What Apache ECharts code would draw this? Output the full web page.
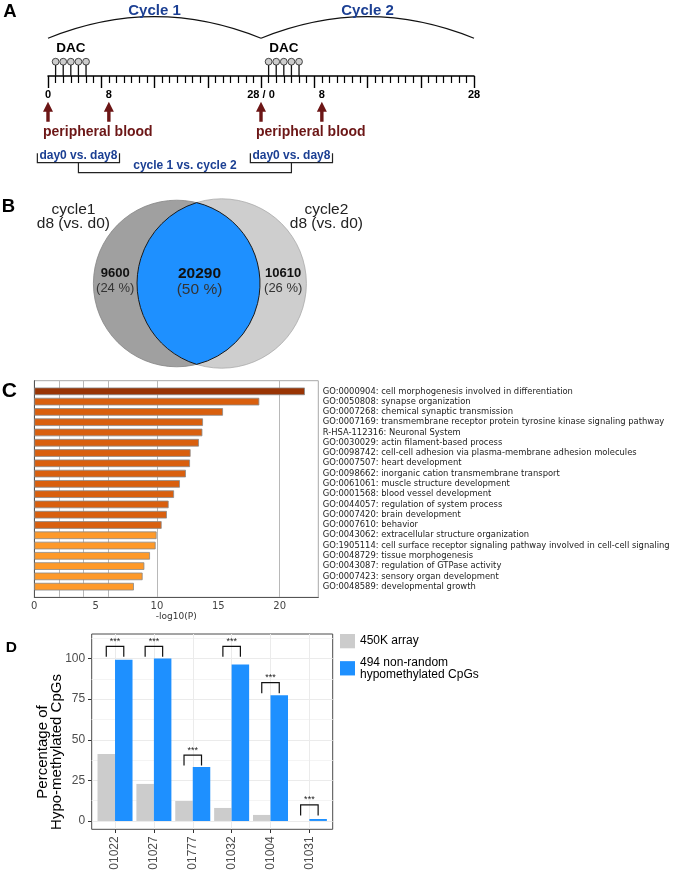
<!DOCTYPE html>
<html><head><meta charset="utf-8">
<script src="https://cdn.jsdelivr.net/npm/echarts@6/dist/echarts.min.js"></script>
<style>html,body{margin:0;padding:0;background:#fff}#c{width:673px;height:871px}</style>
</head><body><div id="c"></div>
<script>
// ---------------- Panel A data ----------------
const cycleNames = ['Cycle 1', 'Cycle 2'];
const cycleStartDays = [0, 28];
const cycleLengthDays = 28;
const dacDays = [1, 2, 3, 4, 5, 29, 30, 31, 32, 33];
const timelineTickValues = [0, 8, 28, 36, 56];
const timelineTickLabels = ['0', '8', '28 / 0', '8', '28'];
const bloodDays = [0, 8, 28, 36];
const bloodLabelDays = [0, 28];
const bloodLabel = 'peripheral blood';
const comparisonCenters = [4, 32];
const comparisonLabels = ['day0 vs. day8', 'day0 vs. day8'];
const crossComparisonLabel = 'cycle 1 vs. cycle 2';

// ---------------- Panel B data ----------------
const vennSetNames = ['cycle1\nd8 (vs. d0)', 'cycle2\nd8 (vs. d0)'];
const vennCounts = [9600, 20290, 10610]; // cycle1 only, both, cycle2 only

// ---------------- Panel C data ----------------
const goTerms = [
  'GO:0000904: cell morphogenesis involved in differentiation',
  'GO:0050808: synapse organization',
  'GO:0007268: chemical synaptic transmission',
  'GO:0007169: transmembrane receptor protein tyrosine kinase signaling pathway',
  'R-HSA-112316: Neuronal System',
  'GO:0030029: actin filament-based process',
  'GO:0098742: cell-cell adhesion via plasma-membrane adhesion molecules',
  'GO:0007507: heart development',
  'GO:0098662: inorganic cation transmembrane transport',
  'GO:0061061: muscle structure development',
  'GO:0001568: blood vessel development',
  'GO:0044057: regulation of system process',
  'GO:0007420: brain development',
  'GO:0007610: behavior',
  'GO:0043062: extracellular structure organization',
  'GO:1905114: cell surface receptor signaling pathway involved in cell-cell signaling',
  'GO:0048729: tissue morphogenesis',
  'GO:0043087: regulation of GTPase activity',
  'GO:0007423: sensory organ development',
  'GO:0048589: developmental growth'
];
const goLog10P = [22.06, 18.34, 15.38, 13.75, 13.70, 13.42, 12.74, 12.69, 12.36, 11.87,
                  11.39, 10.95, 10.81, 10.38, 9.97, 9.89, 9.43, 8.97, 8.83, 8.12];
const goTickValues = [0, 5, 10, 15, 20];
const goGridValues = [2, 4, 6, 10, 20];

// ---------------- Panel D data ----------------
const samples = ['01022', '01027', '01777', '01032', '01004', '01031'];
const seriesNames = ['450K array', '494 non-random\nhypomethylated CpGs'];
const array450K = [41.3, 22.8, 12.3, 8.0, 3.7, 0];
const nonRandom494 = [99.3, 100, 33.2, 96.3, 77.4, 1.2];
const sigLabels = ['***', '***', '***', '***', '***', '***'];
const sigTop = [107.5, 107.5, 40.6, 107.5, 85.2, 9.9];
const sigBottom = [101.2, 101.2, 34.1, 101.2, 78.6, 3.3];
const pctTicks = [0, 25, 50, 75, 100];
const pctMinorTicks = [12.5, 37.5, 62.5, 87.5, 112.5];

// ---------------- layout / style ----------------
const FONT = 'Liberation Sans, Arial, Helvetica, sans-serif';
const FONT_C = 'DejaVu Sans, sans-serif';
const BLUE_TXT = '#1b3f93';
const RED_TXT = '#6c1616';
// panel A vertical levels (1 unit = 1 px above the timeline)
const L = {
  dacStem: 14.3, dacText: 28, arcBase: 37.7, arcCtrl: 80.9, cycleText: 65.5,
  arrowTip: -25.7, arrowHead: -35.7, arrowBase: -45.7, bloodText: -55.7,
  bracketTop: -77.3, bracketBottom: -86.7, bracketText: -79.5, linkBottom: -96.7, linkText: -89.5,
  bracketHalf: 5.4
};
// panel B geometry (grid units = px)
const V = { c1: [176.7, 93.5], c2: [221.7, 93.5], k: 0.4818, titleGap: 20, titleDy: -67 };
const D_BAR_W = 17.5;

function txt(x, y, text, s) {
  return {
    type: 'text', x: x, y: y,
    style: Object.assign({
      text: text, fill: '#000', fontFamily: FONT, fontSize: 12,
      align: 'center', verticalAlign: 'middle', textAlign: 'center', textVerticalAlign: 'middle'
    }, s || {})
  };
}

const chart = echarts.init(document.getElementById('c'), null, { renderer: 'canvas' });

const colorFor = v => v >= 20 ? '#993404' : (v >= 10 ? '#d95f0e' : '#fe9929');
const dacCenter = i => {
  const s = cycleStartDays[i];
  const g = dacDays.filter(d => d >= s && d < s + cycleLengthDays);
  return g.reduce((a, b) => a + b, 0) / g.length;
};

const option = {
  animation: false,
  backgroundColor: '#fff',
  textStyle: { fontFamily: FONT },
  grid: [
    { left: 48, top: 10, width: 426, height: 66, outerBoundsMode: 'none', containLabel: false },
    { left: 0, top: 190, width: 400, height: 190, outerBoundsMode: 'none', containLabel: false },
    { left: 34.3, top: 380.7, width: 284, height: 216.6, show: true, borderColor: '#a8a8a8', borderWidth: 1, outerBoundsMode: 'none', containLabel: false },
    { left: 34.3, top: 386.2, width: 284, height: 205.6, outerBoundsMode: 'none', containLabel: false },
    { left: 91.7, top: 634, width: 241, height: 195.3, show: true, borderColor: '#4a4a4a', borderWidth: 1, outerBoundsMode: 'none', containLabel: false }
  ],
  xAxis: [
    { gridIndex: 0, type: 'value', min: 0, max: 56, interval: 7, position: 'bottom',
      axisLine: { show: true, onZero: false, lineStyle: { color: '#000', width: 1.5 } },
      axisTick: { show: true, length: 12, lineStyle: { color: '#000', width: 1.4 } },
      minorTick: { show: true, splitNumber: 7, length: 7, lineStyle: { color: '#000', width: 1.2 } },
      axisLabel: { customValues: timelineTickValues, margin: 13, fontSize: 11, fontWeight: 'bold', color: '#000',
        formatter: v => timelineTickLabels[timelineTickValues.indexOf(v)] },
      splitLine: { show: false } },
    { gridIndex: 1, type: 'value', min: 0, max: 400, show: false },
    { gridIndex: 2, type: 'value', min: 0, max: 23.15,
      axisLine: { show: true, onZero: false, lineStyle: { color: '#555', width: 1 } },
      axisTick: { show: false, customValues: goGridValues },
      axisLabel: { customValues: goTickValues, fontSize: 10, color: '#444', margin: 4, fontFamily: FONT_C },
      splitLine: { show: true, lineStyle: { color: '#b8b8b8', width: 1 } },
      name: '-log10(P)', nameLocation: 'middle', nameGap: 15,
      nameTextStyle: { fontSize: 9, color: '#333', fontFamily: FONT_C } },
    { gridIndex: 3, type: 'value', min: 0, max: 23.15, show: false },
    { gridIndex: 4, type: 'value', min: 0.4, max: 6.6,
      axisLine: { show: false, onZero: false },
      axisTick: { show: true, length: 3.7, customValues: samples.map((s, i) => i + 1), lineStyle: { color: '#333', width: 1 } },
      axisLabel: { customValues: samples.map((s, i) => i + 1), rotate: 90, margin: 7, fontSize: 12, color: '#4d4d4d',
        formatter: v => samples[Math.round(v) - 1] },
      splitLine: { show: true, lineStyle: { color: '#ebebeb', width: 1 } } }
  ],
  yAxis: [
    { gridIndex: 0, type: 'value', min: 0, max: 66, show: true,
      axisLine: { show: false, onZero: false }, axisTick: { show: false }, axisLabel: { show: false }, splitLine: { show: false } },
    { gridIndex: 1, type: 'value', min: 0, max: 190, inverse: true, show: false },
    { gridIndex: 2, type: 'value', min: 0, max: 1,
      axisLine: { show: true, onZero: false, lineStyle: { color: '#555', width: 1 } },
      axisTick: { show: false }, axisLabel: { show: false }, splitLine: { show: false } },
    { gridIndex: 3, type: 'category', data: goTerms, inverse: true, position: 'right',
      axisLine: { show: false, onZero: false }, axisTick: { show: false },
      axisLabel: { interval: 0, align: 'left', margin: 4.4, fontSize: 8.4, color: '#222', fontFamily: FONT_C },
      splitLine: { show: false } },
    { gridIndex: 4, type: 'value', min: -5.15, max: 115.15,
      axisLine: { show: false, onZero: false },
      axisTick: { show: true, length: 3.7, customValues: pctTicks, lineStyle: { color: '#333', width: 1 } },
      axisLabel: { customValues: pctTicks, margin: 6.5, fontSize: 12, color: '#4d4d4d' },
      splitLine: { show: true, lineStyle: { color: '#ebebeb', width: 1 } } },
    { gridIndex: 4, type: 'value', min: -5.15, max: 115.15,
      axisLine: { show: false, onZero: false },
      axisTick: { show: false, customValues: pctMinorTicks },
      axisLabel: { show: false },
      splitLine: { show: true, lineStyle: { color: '#f4f4f4', width: 1 } } }
  ],
  legend: {
    data: seriesNames, orient: 'vertical', left: 340, top: 634, padding: 0,
    itemWidth: 15, itemHeight: 14.3, itemGap: 8,
    icon: 'rect', selectedMode: false,
    textStyle: { fontSize: 12, color: '#000', lineHeight: 12, fontFamily: FONT }
  },
  graphic: [
    txt(3.3, 12, 'A', { fontSize: 18.5, fontWeight: 'bold', align: 'left', textAlign: 'left' }),
    txt(1.7, 207, 'B', { fontSize: 18.5, fontWeight: 'bold', align: 'left', textAlign: 'left' }),
    txt(1.7, 391.5, 'C', { fontSize: 21, fontWeight: 'bold', align: 'left', textAlign: 'left' }),
    txt(5.7, 647.5, 'D', { fontSize: 15.5, fontWeight: 'bold', align: 'left', textAlign: 'left' }),
    Object.assign(txt(50, 752, 'Percentage of\nHypo-methylated CpGs', { fontSize: 15, lineHeight: 13.5 }), { rotation: Math.PI / 2 })
  ],
  series: [
    // ---- Panel A: DAC lollipops
    { type: 'custom', xAxisIndex: 0, yAxisIndex: 0, clip: false, data: dacDays.map(d => [d, 0]),
      renderItem: (p, api) => {
        const b = api.coord([api.value(0), 0]);
        const t = api.coord([api.value(0), L.dacStem]);
        return { type: 'group', children: [
          { type: 'line', shape: { x1: b[0], y1: b[1], x2: t[0], y2: t[1] }, style: { stroke: '#111', lineWidth: 1.3 } },
          { type: 'circle', shape: { cx: t[0], cy: t[1], r: 3.4 }, style: { fill: '#cdcdcd', stroke: '#333', lineWidth: 0.9 } }
        ] };
      } },
    // ---- Panel A: cycle arcs, cycle names, DAC labels
    { type: 'custom', xAxisIndex: 0, yAxisIndex: 0, clip: false,
      data: cycleStartDays.map((s, i) => [s, s + cycleLengthDays, i]),
      renderItem: (p, api) => {
        const s = api.value(0), e = api.value(1), i = api.value(2);
        const p0 = api.coord([s, L.arcBase]), p1 = api.coord([e, L.arcBase]);
        const cp = api.coord([(s + e) / 2, L.arcCtrl]);
        const tp = api.coord([(s + e) / 2, L.cycleText]);
        const dp = api.coord([dacCenter(i), L.dacText]);
        return { type: 'group', children: [
          { type: 'bezierCurve', shape: { x1: p0[0], y1: p0[1], x2: p1[0], y2: p1[1], cpx1: cp[0], cpy1: cp[1] },
            style: { stroke: '#111', lineWidth: 1.2, fill: null } },
          txt(tp[0], tp[1], cycleNames[i], { fontSize: 15, fontWeight: 'bold', fill: BLUE_TXT }),
          txt(dp[0], dp[1], 'DAC', { fontSize: 13.5, fontWeight: 'bold', fill: '#000' })
        ] };
      } },
    // ---- Panel A: blood sampling arrows
    { type: 'custom', xAxisIndex: 0, yAxisIndex: 0, clip: false, data: bloodDays.map(d => [d, 0]),
      renderItem: (p, api) => {
        const x = api.coord([api.value(0), 0])[0];
        const yT = api.coord([0, L.arrowTip])[1], yH = api.coord([0, L.arrowHead])[1], yB = api.coord([0, L.arrowBase])[1];
        return { type: 'polygon', shape: { points: [[x, yT], [x + 5, yH], [x + 1.7, yH], [x + 1.7, yB], [x - 1.7, yB], [x - 1.7, yH], [x - 5, yH]] },
          style: { fill: RED_TXT } };
      } },
    { type: 'custom', xAxisIndex: 0, yAxisIndex: 0, clip: false, data: bloodLabelDays.map(d => [d, 0]),
      renderItem: (p, api) => {
        const c = api.coord([api.value(0), L.bloodText]);
        return txt(c[0] - 5, c[1], bloodLabel, { fontSize: 14, fontWeight: 'bold', fill: RED_TXT, align: 'left', textAlign: 'left' });
      } },
    // ---- Panel A: comparison brackets
    { type: 'custom', xAxisIndex: 0, yAxisIndex: 0, clip: false, data: comparisonCenters.map((c, i) => [c, i]),
      renderItem: (p, api) => {
        const c = api.value(0), i = api.value(1);
        const a = api.coord([c - L.bracketHalf, L.bracketTop]), b = api.coord([c + L.bracketHalf, L.bracketBottom]);
        const t = api.coord([c, L.bracketText]);
        return { type: 'group', children: [
          { type: 'polyline', shape: { points: [[a[0], a[1]], [a[0], b[1]], [b[0], b[1]], [b[0], a[1]]] },
            style: { stroke: '#222', lineWidth: 1.2, fill: null } },
          txt(t[0], t[1], comparisonLabels[i], { fontSize: 12, fontWeight: 'bold', fill: BLUE_TXT })
        ] };
      } },
    { type: 'custom', xAxisIndex: 0, yAxisIndex: 0, clip: false, data: [[comparisonCenters[0], comparisonCenters[1]]],
      renderItem: (p, api) => {
        const c0 = api.value(0), c1 = api.value(1);
        const a = api.coord([c0, L.bracketBottom]), b = api.coord([c1, L.linkBottom]);
        const t = api.coord([(c0 + c1) / 2, L.linkText]);
        return { type: 'group', children: [
          { type: 'polyline', shape: { points: [[a[0], a[1]], [a[0], b[1]], [b[0], b[1]], [b[0], a[1]]] },
            style: { stroke: '#222', lineWidth: 1.2, fill: null } },
          txt(t[0], t[1], crossComparisonLabel, { fontSize: 12, fontWeight: 'bold', fill: BLUE_TXT })
        ] };
      } },
    // ---- Panel B: Venn diagram
    { type: 'custom', xAxisIndex: 1, yAxisIndex: 1, clip: false, data: [[0, 0]],
      renderItem: (p, api) => {
        const total = vennCounts.reduce((a, b) => a + b, 0);
        const n1 = vennCounts[0] + vennCounts[1], n2 = vennCounts[1] + vennCounts[2];
        const c1 = api.coord(V.c1), c2 = api.coord(V.c2);
        const r1 = api.size([V.k * Math.sqrt(n1), 0])[0];
        const r2 = api.size([V.k * Math.sqrt(n2), 0])[0];
        const d = c2[0] - c1[0];
        const a = (r1 * r1 - r2 * r2 + d * d) / (2 * d);
        const h = Math.sqrt(r1 * r1 - a * a);
        const ix = c1[0] + a, yTop = c1[1] - h, yBot = c1[1] + h;
        const lens = `M${ix},${yTop} A${r1},${r1} 0 0 1 ${ix},${yBot} A${r2},${r2} 0 0 1 ${ix},${yTop} Z`;
        const pct = v => '(' + Math.round(v / total * 100) + ' %)';
        const xL = ((c1[0] - r1) + (c2[0] - r2)) / 2;
        const xM = ((c2[0] - r2) + (c1[0] + r1)) / 2 + 1;
        const xR = ((c1[0] + r1) + (c2[0] + r2)) / 2;
        const cy = c1[1];
        return { type: 'group', children: [
          { type: 'circle', shape: { cx: c1[0], cy: c1[1], r: r1 }, style: { fill: '#a0a0a0', stroke: '#858585', lineWidth: 0.8 } },
          { type: 'circle', shape: { cx: c2[0], cy: c2[1], r: r2 }, style: { fill: '#cecece', stroke: '#aaaaaa', lineWidth: 0.8 } },
          { type: 'path', shape: { pathData: lens }, style: { fill: '#1e90ff', stroke: '#1a1a1a', lineWidth: 1 } },
          txt(c1[0] - r1 - V.titleGap, cy + V.titleDy, vennSetNames[0], { fontSize: 15.5, lineHeight: 14, fill: '#222' }),
          txt(c2[0] + r2 + V.titleGap, cy + V.titleDy, vennSetNames[1], { fontSize: 15.5, lineHeight: 14, fill: '#222' }),
          txt(xL, cy - 10, String(vennCounts[0]), { fontSize: 13, fontWeight: 'bold', fill: '#111' }),
          txt(xL, cy + 5, pct(vennCounts[0]), { fontSize: 13, fill: '#333' }),
          txt(xM, cy - 9.5, String(vennCounts[1]), { fontSize: 15.5, fontWeight: 'bold', fill: '#111' }),
          txt(xM, cy + 6.5, pct(vennCounts[1]), { fontSize: 15.5, fill: '#333' }),
          txt(xR, cy - 10, String(vennCounts[2]), { fontSize: 13, fontWeight: 'bold', fill: '#111' }),
          txt(xR, cy + 5, pct(vennCounts[2]), { fontSize: 13, fill: '#333' })
        ] };
      } },
    // ---- Panel C: enrichment bars
    { type: 'bar', xAxisIndex: 3, yAxisIndex: 3, barWidth: 7.6,
      data: goLog10P.map(v => ({ value: v, itemStyle: { color: colorFor(v) } })),
      itemStyle: { borderColor: '#8a8a8a', borderWidth: 0.8 } },
    // ---- Panel D: bars
    { type: 'bar', name: seriesNames[0], xAxisIndex: 4, yAxisIndex: 4, barWidth: D_BAR_W, barGap: '0%',
      data: array450K.map((v, i) => [i + 1, v]), itemStyle: { color: '#cccccc' } },
    { type: 'bar', name: seriesNames[1], xAxisIndex: 4, yAxisIndex: 4, barWidth: D_BAR_W, barGap: '0%',
      data: nonRandom494.map((v, i) => [i + 1, v]), itemStyle: { color: '#1e90ff' } },
    // ---- Panel D: significance brackets
    { type: 'custom', xAxisIndex: 4, yAxisIndex: 4, clip: false, data: samples.map((s, i) => [i + 1, sigTop[i], sigBottom[i], i]),
      renderItem: (p, api) => {
        const x = api.value(0);
        const t = api.coord([x, api.value(1)]), b = api.coord([x, api.value(2)]);
        const hw = D_BAR_W / 2;
        return { type: 'group', children: [
          { type: 'polyline', shape: { points: [[t[0] - hw, b[1]], [t[0] - hw, t[1]], [t[0] + hw, t[1]], [t[0] + hw, b[1]]] },
            style: { stroke: '#111', lineWidth: 1.2, fill: null } },
          txt(t[0], t[1] - 0.5, sigLabels[api.value(3)], { fontSize: 9, fill: '#222', verticalAlign: 'bottom', textVerticalAlign: 'bottom' })
        ] };
      } }
  ]
};
chart.setOption(option);
</script>
</body></html>
